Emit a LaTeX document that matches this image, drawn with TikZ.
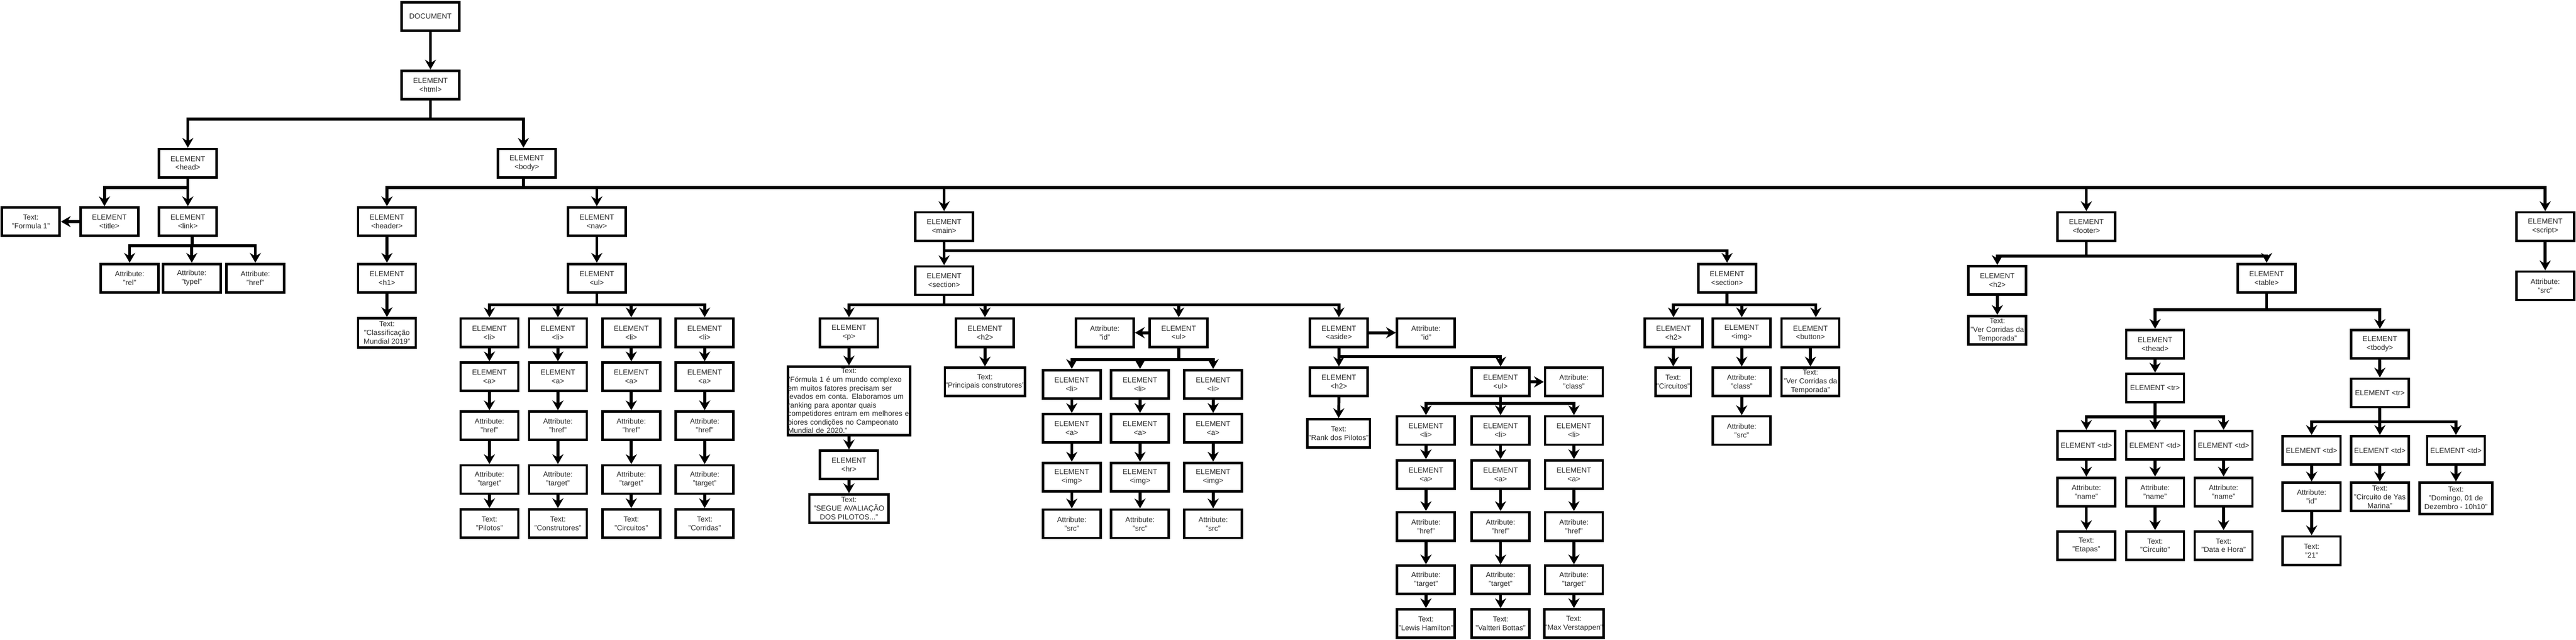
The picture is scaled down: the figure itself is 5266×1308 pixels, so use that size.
\documentclass[tikz,border=0pt]{standalone}
\usepackage{fontspec}
\setmainfont{Liberation Sans}
\usepackage{xcolor}
\usepackage{tikz}
\usetikzlibrary{arrows.meta}
\definecolor{domline}{RGB}{0, 0, 0}
\definecolor{domtext}{RGB}{40, 40, 40}
\newcommand{\domfont}{\fontsize{11.25pt}{13.4pt}\selectfont}
\newcommand{\parfont}{\fontsize{11.25pt}{13.1pt}\selectfont}

\begin{document}
\begin{tikzpicture}[x=0.75pt, y=-0.75pt,
  box/.style={draw=domline, line width=3.75pt, fill=white, minimum width=88.5pt, minimum height=43.5pt,
    inner xsep=1pt, inner ysep=2pt, align=center, text=domtext, font=\domfont},
  edge/.style={draw=domline, line width=4.5pt, -{Stealth[length=15pt,width=17pt,inset=5pt]}}]
\fill[white] (0,0) rectangle (5266,1308);
\useasboundingbox (0,0) rectangle (5266,1308);

% Document and html
\node[box] (doc) at (880,33.5) {DOCUMENT};
\node[box] (html) at (880,173.5) {ELEMENT\\<html>};

% head branch
\node[box] (head) at (384,333.5) {ELEMENT\\<head>};
\node[box] (title) at (223.5,453) {ELEMENT\\<title>};
\node[box] (ttitle) at (63,453) {Text:\\"Formula 1"};
\node[box] (link) at (384,453) {ELEMENT\\<link>};
\foreach \n/\x/\lbl in {rel/265/rel, type/392/typel, href/522/href}
  \node[box] (link\n) at (\x,568.5) {Attribute:\\"\lbl"};

% body and header
\node[box] (body) at (1077,333.5) {ELEMENT\\<body>};
\node[box] (header) at (791,453) {ELEMENT\\<header>};
\node[box] (h1) at (791,568.5) {ELEMENT\\<h1>};
\node[box, minimum height=45pt] (th1) at (791,680.5) {Text:\\"Classificação\\Mundial 2019"};

% nav
\node[box] (nav) at (1220,453) {ELEMENT\\<nav>};
\node[box] (navul) at (1220,568.5) {ELEMENT\\<ul>};
\foreach \i/\x/\lbl in {1/1000.5/Pilotos, 2/1140.5/Construtores, 3/1290.5/Circuitos, 4/1440.5/Corridas} {
  \node[box] (navli\i) at (\x,680) {ELEMENT\\<li>};
  \node[box] (nava\i) at (\x,770) {ELEMENT\\<a>};
  \node[box] (navhref\i) at (\x,870) {Attribute:\\"href"};
  \node[box] (navtgt\i) at (\x,980) {Attribute:\\"target"};
  \node[box] (navtxt\i) at (\x,1070) {Text:\\"\lbl"};
}

% main and first section
\node[box] (main) at (1930,463) {ELEMENT\\<main>};
\node[box] (sec) at (1930,573.5) {ELEMENT\\<section>};
\node[box] (p) at (1735.5,680) {ELEMENT\\<p>};
\node[box, text width=187.5pt, minimum height=105pt, inner xsep=0pt, inner ysep=0pt, font=\parfont] (tp) at (1735.5,819.5) {%
  \makebox[\hsize]{Text:}\\
  \makebox[\hsize][s]{"Fórmula 1 é um mundo complexo}\\
  \makebox[\hsize][s]{em muitos fatores precisam ser}\\
  \makebox[\hsize][s]{levados em conta. Elaboramos um}\\
  \makebox[\hsize][s]{ranking para apontar quais}\\
  \makebox[\hsize][s]{competidores entram em melhores e}\\
  \makebox[\hsize][s]{piores condições no Campeonato}\\
  \makebox[\hsize][l]{Mundial de 2020."}};
\node[box] (hr) at (1735.5,950) {ELEMENT\\<hr>};
\node[box, minimum width=121.5pt] (tsegue) at (1735.5,1039.5) {Text:\\"SEGUE AVALIAÇÃO\\DOS PILOTOS..."};
\node[box] (h2) at (2013.5,680) {ELEMENT\\<h2>};
\node[box, minimum width=123pt, inner xsep=0pt] (th2) at (2013.5,780.5) {Text:\\"Principais construtores"};
\node[box] (secid) at (2258.5,680) {Attribute:\\"id"};
\node[box] (secul) at (2409.5,680) {ELEMENT\\<ul>};
\foreach \i/\x in {1/2191, 2/2330.5, 3/2480} {
  \node[box] (secli\i) at (\x,785.5) {ELEMENT\\<li>};
  \node[box] (seca\i) at (\x,875.5) {ELEMENT\\<a>};
  \node[box] (secimg\i) at (\x,975) {ELEMENT\\<img>};
  \node[box] (secsrc\i) at (\x,1070.5) {Attribute:\\"src"};
}

% aside
\node[box] (aside) at (2737,680) {ELEMENT\\<aside>};
\node[box] (asideid) at (2915,680) {Attribute:\\"id"};
\node[box] (asideh2) at (2737,780.5) {ELEMENT\\<h2>};
\node[box, minimum width=96pt] (trank) at (2736.5,886) {Text:\\"Rank dos Pilotos"};
\node[box] (asideul) at (3067.5,780.5) {ELEMENT\\<ul>};
\node[box] (asidecls) at (3217.5,780.5) {Attribute:\\"class"};
\foreach \i/\x/\lbl in {1/2915/Lewis Hamilton, 2/3067.5/Valtteri Bottas, 3/3217.5/Max Verstappen} {
  \node[box] (asli\i) at (\x,880) {ELEMENT\\<li>};
  \node[box] (asa\i) at (\x,970) {ELEMENT\\<a>};
  \node[box] (ashref\i) at (\x,1076) {Attribute:\\"href"};
  \node[box] (astgt\i) at (\x,1185) {Attribute:\\"target"};
  \node[box] (astxt\i) at (\x,1274.5) {Text:\\"\lbl"};
}

% second section
\node[box] (sec2) at (3530.5,568.5) {ELEMENT\\<section>};
\node[box] (s2h2) at (3421,680) {ELEMENT\\<h2>};
\node[box, minimum width=54pt, inner xsep=0pt] (tcirc) at (3420.5,780.5) {Text:\\"Circuitos"};
\node[box] (s2img) at (3560.5,680) {ELEMENT\\<img>};
\node[box] (s2cls) at (3560.5,780.5) {Attribute:\\"class"};
\node[box] (s2src) at (3560.5,880) {Attribute:\\"src"};
\node[box] (s2btn) at (3701,680) {ELEMENT\\<button>};
\node[box] (tbtn) at (3701,780.5) {Text:\\"Ver Corridas da\\Temporada"};

% footer
\node[box] (footer) at (4265,463) {ELEMENT\\<footer>};
\node[box] (fh2) at (4083,573) {ELEMENT\\<h2>};
\node[box] (tfh2) at (4083,675) {Text:\\"Ver Corridas da\\Temporada"};
\node[box] (table) at (4633.5,568.5) {ELEMENT\\<table>};
\node[box] (thead) at (4405.5,703.5) {ELEMENT\\<thead>};
\node[box] (htr) at (4405.5,793) {ELEMENT <tr>};
\foreach \i/\x/\lbl in {1/4265/Etapas, 2/4405.5/Circuito, 3/4545.5/Data e Hora} {
  \node[box] (htd\i) at (\x,910) {ELEMENT <td>};
  \node[box] (hname\i) at (\x,1005.5) {Attribute:\\"name"};
  \node[box] (htxt\i) at (\x,1115) {Text:\\"\lbl"};
}
\node[box] (tbody) at (4865,703.5) {ELEMENT\\<tbody>};
\node[box] (btr) at (4865,803) {ELEMENT <tr>};
\foreach \i/\x in {1/4725.5, 2/4865, 3/5020.5}
  \node[box] (btd\i) at (\x,920.5) {ELEMENT <td>};
\node[box] (bid) at (4725.5,1015.5) {Attribute:\\"id"};
\node[box] (t21) at (4725.5,1125.5) {Text:\\"21"};
\node[box] (tyas) at (4865,1015.5) {Text:\\"Circuito de Yas\\Marina"};
\node[box, minimum width=111pt, minimum height=48pt] (tdom) at (5020.5,1018.5) {Text:\\"Domingo, 01 de\\Dezembro - 10h10"};

% script
\node[box] (script) at (5203,463) {ELEMENT\\<script>};
\node[box] (ssrc) at (5203,584) {Attribute:\\"src"};

% Connectors: top levels
\draw[edge] (doc.south) -- (html.north);
\draw[edge] (html.south) -- ++(0,38) -| (head.north);
\draw[edge] (html.south) -- ++(0,38) -| ([xshift=-5.25pt]body.north);
\draw[edge] (head.south) -- ++(0,18) -| ([xshift=-7.5pt]title.north);
\draw[edge] (head.south) -- ++(0,18) -| (link.north);
\draw[edge] (title.west) -- (ttitle.east);
\foreach \c in {rel,type,href} \draw[edge] ([xshift=6.75pt]link.south) -- ++(0,18) -| (link\c.north);
\foreach \c in {header,nav,main,footer,script} \draw[edge] ([xshift=-5.25pt]body.south) -- ++(0,18) -| (\c.north);

% Connectors: header and nav
\draw[edge] (header.south) -- (h1.north);
\draw[edge] (h1.south) -- (th1.north);
\draw[edge] (nav.south) -- (navul.north);
\foreach \i in {1,...,4} {
  \draw[edge] (navul.south) -- ++(0,23) -| (navli\i.north);
  \draw[edge] (navli\i.south) -- (nava\i.north);
  \draw[edge] (nava\i.south) -- (navhref\i.north);
  \draw[edge] (navhref\i.south) -- (navtgt\i.north);
  \draw[edge] (navtgt\i.south) -- (navtxt\i.north);
}

% Connectors: main
\draw[edge] (main.south) -- (sec.north);
\draw[edge] (main.south) -- ++(0,18) -| (sec2.north);
\foreach \c in {p,h2,secul,aside} \draw[edge] (sec.south) -- ++(0,18) -| (\c.north);
\draw[edge] (p.south) -- (tp.north);
\draw[edge] (tp.south) -- (hr.north);
\draw[edge] (hr.south) -- (tsegue.north);
\draw[edge] (h2.south) -- (th2.north);
\draw[edge] (secul.west) -- (secid.east);
\foreach \i in {1,2,3} {
  \draw[edge] (secul.south) -- ++(0,23.5) -| (secli\i.north);
  \draw[edge] (secli\i.south) -- (seca\i.north);
  \draw[edge] (seca\i.south) -- (secimg\i.north);
  \draw[edge] (secimg\i.south) -- (secsrc\i.north);
}
\draw[edge] (aside.east) -- (asideid.west);
\foreach \c in {asideh2,asideul} \draw[edge] (aside.south) -- ++(0,17.5) -| (\c.north);
\draw[edge] (asideh2.south) -- (trank.north);
\draw[edge] (asideul.east) -- (asidecls.west);
\foreach \i in {1,2,3} {
  \draw[edge] (asideul.south) -- ++(0,13) -| (asli\i.north);
  \draw[edge] (asli\i.south) -- (asa\i.north);
  \draw[edge] (asa\i.south) -- (ashref\i.north);
  \draw[edge] (ashref\i.south) -- (astgt\i.north);
  \draw[edge] (astgt\i.south) -- (astxt\i.north);
}
\draw[edge] (sec2.south) -- ++(0,23) -| (s2h2.north);
\draw[edge] (sec2.south) -- ++(0,23) -| (s2img.north);
\draw[edge] (sec2.south) -- ++(0,23) -| ([xshift=8.25pt]s2btn.north);
\draw[edge] (s2h2.south) -- (tcirc.north);
\draw[edge] (s2img.south) -- (s2cls.north);
\draw[edge] (s2cls.south) -- (s2src.north);
\draw[edge] (s2btn.south) -- (tbtn.north);

% Connectors: footer and script
\foreach \c in {fh2,table} \draw[edge] (footer.south) -- ++(0,29) -| (\c.north);
\draw[edge] (fh2.south) -- (tfh2.north);
\foreach \c in {thead,tbody} \draw[edge] (table.south) -- ++(0,33) -| (\c.north);
\draw[edge] (thead.south) -- (htr.north);
\foreach \i in {1,2,3} {
  \draw[edge] (htr.south) -- ++(0,27.5) -| (htd\i.north);
  \draw[edge] (htd\i.south) -- (hname\i.north);
  \draw[edge] (hname\i.south) -- (htxt\i.north);
}
\draw[edge] (tbody.south) -- (btr.north);
\foreach \i in {1,2,3} \draw[edge] (btr.south) -- ++(0,27.5) -| (btd\i.north);
\draw[edge] (btd1.south) -- (bid.north);
\draw[edge] (bid.south) -- (t21.north);
\draw[edge] (btd2.south) -- (tyas.north);
\draw[edge] (btd3.south) -- (tdom.north);
\draw[edge] (script.south) -- (ssrc.north);
\end{tikzpicture}
\end{document}
